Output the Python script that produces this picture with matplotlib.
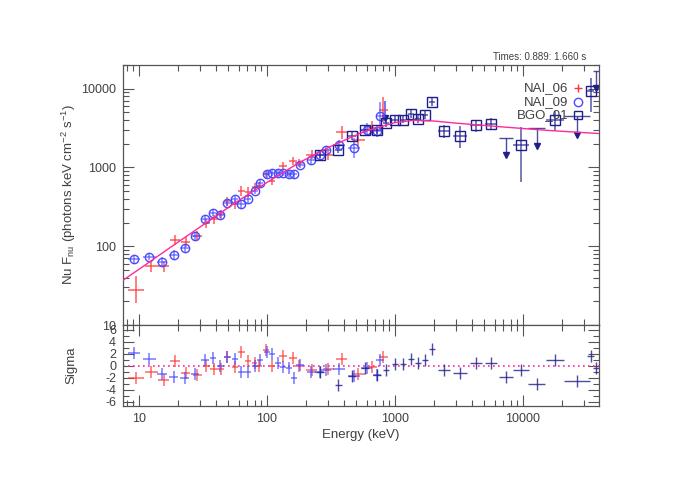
import numpy as np
import matplotlib
matplotlib.use('Agg')
import matplotlib.pyplot as plt
from matplotlib.ticker import LogLocator, NullFormatter, FuncFormatter, MultipleLocator

# ---- data ----
# model curve (Nu F_nu), points along the fitted line
model_e = [7.5, 10, 17.8, 31.6, 56.2, 100, 178, 316, 562, 1000, 1410, 2000, 3160, 6310, 15800, 40000]
model_f = [37, 51, 98, 186, 355, 646, 1150, 1860, 2820, 3720, 3980, 3890, 3630, 3310, 2950, 2690]

# NAI_06 (red crosses)
nai06_e = [9.5, 12.5, 15.6, 19.2, 23.2, 28.4, 33.6, 38.4, 43.5, 48.7, 56, 63, 71,
           80, 87, 98.5, 110, 133, 160, 178, 223, 301, 383, 516, 658, 811]
nai06_f = [28, 56, 56, 120, 113, 135, 195, 220, 254, 370, 340, 500, 486,
           560, 580, 815, 671, 1040, 1200, 1150, 1460, 1460, 2800, 2260, 3180, 5420]
nai06_ferr = [0.17, 0.07, 0.07, 0.06, 0.06, 0.06, 0.06, 0.06, 0.06, 0.06, 0.06, 0.06, 0.06,
              0.05, 0.05, 0.05, 0.05, 0.05, 0.05, 0.05, 0.06, 0.07, 0.08, 0.09, 0.09, 0.16]
nai06_w = [0.06, 0.05, 0.045, 0.04, 0.035, 0.035, 0.03, 0.03, 0.025, 0.025, 0.025, 0.025, 0.025,
           0.022, 0.022, 0.022, 0.022, 0.03, 0.03, 0.03, 0.04, 0.045, 0.045, 0.05, 0.04, 0.035]
nai06_res = [-2.0, -1.0, -2.4, 0.7, -1.3, -1.55, 0.0, -0.6, -0.55, 1.4, -0.3, 2.2, 0.7,
             0.4, -0.15, 2.6, -0.15, 1.6, 1.2, -0.15, -0.8, -0.6, 1.07, -1.4, -0.3, 1.5]

# NAI_09 (blue circles)
nai09_e = [9.1, 12.0, 15.2, 18.7, 22.7, 27.4, 32.6, 37.8, 43.2, 49, 56, 63, 71, 80.5, 88,
           99.5, 110, 122, 134, 149, 163, 181, 221, 259, 290, 365, 478, 600, 720, 765]
nai09_f = [68, 74, 63, 77, 94, 135, 220, 267, 252, 357, 393, 340, 393, 500, 640,
           815, 857, 840, 857, 815, 815, 1090, 1260, 1450, 1690, 1950, 1770, 3030, 2900, 4550]
nai09_ferr = [0.05, 0.05, 0.06, 0.06, 0.06, 0.05, 0.04, 0.04, 0.04, 0.04, 0.04, 0.04, 0.04, 0.04, 0.04,
              0.04, 0.04, 0.04, 0.04, 0.04, 0.05, 0.04, 0.05, 0.05, 0.05, 0.06, 0.13, 0.08, 0.08, 0.17]
nai09_w = [0.045, 0.05, 0.04, 0.035, 0.035, 0.03, 0.03, 0.025, 0.025, 0.025, 0.025, 0.025, 0.025, 0.022, 0.022,
           0.022, 0.022, 0.022, 0.022, 0.022, 0.022, 0.03, 0.035, 0.035, 0.04, 0.045, 0.05, 0.04, 0.03, 0.03]
nai09_res = [2.07, 1.07, -1.4, -1.9, -2.1, -1.4, 0.95, 1.2, -0.15, 1.35, 1.07, -1.0, -1.0, -0.15, 0.95,
             2.3, 1.9, 0.4, -0.3, -0.45, -2.1, 0.1, -1.1, -1.0, -0.7, -0.5, -1.8, -0.35, -1.55, 0.95]
# NAI_09 upper limit
nai09_ul_e = [830]
nai09_ul_top = [6900]
nai09_ul_tip = [4250]

# BGO_01 (navy squares)
bgo_e = [260, 361, 463, 583, 719, 851, 1000, 1150, 1330, 1520, 1710, 1940,
         2410, 3220, 4300, 5620, 9640, 17800, 33700]
bgo_f = [1460, 1690, 2490, 3030, 2950, 3680, 4060, 4060, 4790, 4130, 4690, 6710,
         2880, 2540, 3440, 3570, 1950, 4060, 9240]
bgo_flo = [0.04, 0.04, 0.05, 0.05, 0.05, 0.05, 0.04, 0.04, 0.05, 0.05, 0.05, 0.05,
           0.08, 0.16, 0.08, 0.08, 0.48, 0.14, 0.26]
bgo_fhi = [0.04, 0.04, 0.05, 0.05, 0.05, 0.05, 0.04, 0.04, 0.05, 0.05, 0.05, 0.05,
           0.08, 0.12, 0.07, 0.07, 0.23, 0.11, 0.17]
bgo_w = [0.03, 0.03, 0.03, 0.03, 0.03, 0.025, 0.025, 0.025, 0.025, 0.025, 0.025, 0.025,
         0.05, 0.055, 0.05, 0.05, 0.06, 0.07, 0.03]
bgo_res = [-1.0, -3.3, -1.8, -0.35, -1.55, -0.7, 0.2, 0.2, 1.07, 0.4, 0.85, 2.7,
           -0.7, -1.3, 0.4, 0.4, -0.7, 0.85, 1.6]
# BGO_01 upper limits
bgo_ul_e = [7360, 12800, 26300, 37000]
bgo_ul_top = [2380, 3170, 4550, 16600]
bgo_ul_tip = [1430, 1900, 2620, 10200]
bgo_ul_w = [0.052, 0.065, 0.1, 0.025]
bgo_ul_res = [-1.95, -3.1, -2.5, -0.45]

RED = '#ff3535'
BLUE = '#4a4aff'
NAVY = '#1f1f8c'
PINK = '#ff2a9a'
TXT = '#404040'

plt.rcParams['font.family'] = ['Liberation Sans', 'DejaVu Sans']
plt.rcParams['font.size'] = 9
plt.rcParams['text.color'] = TXT
plt.rcParams['axes.labelcolor'] = TXT
plt.rcParams['xtick.color'] = '#555555'
plt.rcParams['ytick.color'] = '#555555'
plt.rcParams['xtick.labelcolor'] = TXT
plt.rcParams['ytick.labelcolor'] = TXT
plt.rcParams['axes.edgecolor'] = '#555555'
plt.rcParams['mathtext.default'] = 'regular'


def xerr_of(e, w):
    e = np.asarray(e, float)
    w = np.asarray(w, float)
    return [e - e / 10**w, e * 10**w - e]


def yerr_of(f, lo, hi):
    f = np.asarray(f, float)
    return [f - f / 10**np.asarray(lo), f * 10**np.asarray(hi) - f]


def style_axes(ax, top_panel):
    ax.set_xscale('log')
    ax.set_xlim(7.5, 39300)
    ax.xaxis.set_major_locator(LogLocator(base=10))
    ax.xaxis.set_minor_locator(LogLocator(base=10, subs=np.arange(2, 10)))
    ax.xaxis.set_minor_formatter(NullFormatter())
    ax.xaxis.set_major_formatter(FuncFormatter(lambda v, p: '%d' % v))
    ax.tick_params(which='both', direction='in', top=True, right=True, width=0.8)
    ax.tick_params(which='major', length=8, pad=5)
    ax.tick_params(which='minor', length=4)
    for s in ax.spines.values():
        s.set_linewidth(0.9)
    if top_panel:
        ax.tick_params(labelbottom=False)


fig = plt.figure(figsize=(6.95, 5.0), dpi=100)
ax = fig.add_axes([0.177, 0.35, 0.685, 0.52])
axr = fig.add_axes([0.177, 0.188, 0.685, 0.162])

# ---- spectrum panel ----
style_axes(ax, True)
ax.set_yscale('log')
ax.set_ylim(10, 20000)
ax.yaxis.set_major_locator(LogLocator(base=10))
ax.yaxis.set_minor_locator(LogLocator(base=10, subs=np.arange(2, 10)))
ax.yaxis.set_minor_formatter(NullFormatter())
ax.yaxis.set_major_formatter(FuncFormatter(lambda v, p: '%d' % v))

ax.plot(model_e, model_f, color=PINK, lw=1.0, zorder=5)

ax.errorbar(nai06_e, nai06_f, xerr=xerr_of(nai06_e, nai06_w),
            yerr=yerr_of(nai06_f, nai06_ferr, nai06_ferr),
            fmt='none', ecolor=RED, elinewidth=1.2, alpha=0.75, zorder=3)

ax.errorbar(nai09_e, nai09_f, xerr=xerr_of(nai09_e, nai09_w),
            yerr=yerr_of(nai09_f, nai09_ferr, nai09_ferr),
            fmt='none', ecolor=BLUE, elinewidth=1.1, alpha=0.7, zorder=3)
ax.plot(nai09_e, nai09_f, 'o', mfc='none', mec=BLUE, ms=6, mew=1.0, zorder=4)
ax.vlines(nai09_ul_e, nai09_ul_tip, nai09_ul_top, color=BLUE, lw=1.1)
ax.plot(nai09_ul_e, nai09_ul_tip, 'v', color=NAVY, ms=4)

ax.errorbar(bgo_e, bgo_f, xerr=xerr_of(bgo_e, bgo_w),
            yerr=yerr_of(bgo_f, bgo_flo, bgo_fhi),
            fmt='none', ecolor=NAVY, elinewidth=1.1, alpha=0.75, zorder=3)
ax.plot(bgo_e, bgo_f, 's', mfc='none', mec=NAVY, ms=6.5, mew=1.0, zorder=4)
ul_e = np.asarray(bgo_ul_e, float)
ul_w = np.asarray(bgo_ul_w, float)
ax.vlines(bgo_ul_e, bgo_ul_tip, bgo_ul_top, color=NAVY, lw=1.0, alpha=0.8)
ax.hlines(bgo_ul_top, ul_e / 10**ul_w, ul_e * 10**ul_w, color=NAVY, lw=1.0, alpha=0.8)
ax.plot(bgo_ul_e, bgo_ul_tip, 'v', color=NAVY, ms=4)

ax.set_ylabel('Nu F$_{nu}$ (photons keV cm$^{-2}$ s$^{-1}$)', fontsize=9.5)
ax.yaxis.set_label_coords(-0.095, 0.5)

# legend: label then symbol
legend_rows = [('NAI_06', '+', RED, 0.912), ('NAI_09', 'o', BLUE, 0.858), ('BGO_01', 's', NAVY, 0.808)]
for name, mk, col, yy in legend_rows:
    ax.text(0.935, yy, name, ha='right', va='center', transform=ax.transAxes, fontsize=9.5)
    ax.plot([0.955], [yy], mk, mfc='none', mec=col, color=col, ms=6, mew=1.0,
            transform=ax.transAxes, clip_on=False)

fig.text(0.843, 0.886, 'Times: 0.889: 1.660 s', ha='right', va='center', fontsize=7)

# ---- residual panel ----
style_axes(axr, False)
axr.set_ylim(-6.75, 6.75)
axr.yaxis.set_major_locator(MultipleLocator(2))
axr.yaxis.set_minor_locator(MultipleLocator(1))
axr.yaxis.set_major_formatter(FuncFormatter(lambda v, p: '%d' % round(v)))
axr.axhline(0, color=PINK, lw=1.2, ls=(0, (1, 2)))

ones6 = np.ones(len(nai06_e))
ones9 = np.ones(len(nai09_e))
onesb = np.ones(len(bgo_e))
axr.errorbar(nai06_e, nai06_res, xerr=xerr_of(nai06_e, nai06_w), yerr=ones6,
             fmt='none', ecolor=RED, elinewidth=1.1, alpha=0.75)
axr.errorbar(nai09_e, nai09_res, xerr=xerr_of(nai09_e, nai09_w), yerr=ones9,
             fmt='none', ecolor=BLUE, elinewidth=1.1, alpha=0.75)
axr.errorbar(bgo_e, bgo_res, xerr=xerr_of(bgo_e, bgo_w), yerr=onesb,
             fmt='none', ecolor=NAVY, elinewidth=1.0, alpha=0.8)
axr.errorbar(bgo_ul_e, bgo_ul_res, xerr=xerr_of(bgo_ul_e, bgo_ul_w), yerr=np.ones(len(bgo_ul_e)),
             fmt='none', ecolor=NAVY, elinewidth=1.0, alpha=0.8)

axr.set_ylabel('Sigma', fontsize=9.5)
axr.yaxis.set_label_coords(-0.095, 0.5)
axr.set_xlabel('Energy (keV)', fontsize=9.5, labelpad=3)

fig.savefig('out.png', dpi=100)
